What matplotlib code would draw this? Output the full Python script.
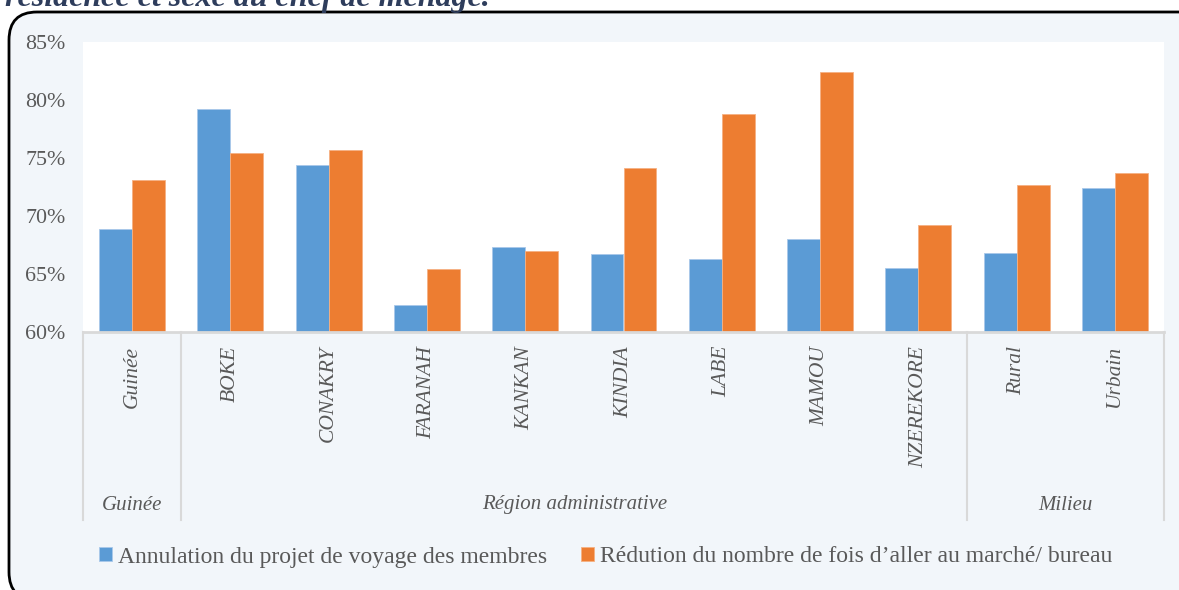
import matplotlib
matplotlib.use("Agg")
import matplotlib.pyplot as plt
import numpy as np
from matplotlib.patches import FancyBboxPatch
from matplotlib.lines import Line2D

categories = ["Guinée", "BOKE", "CONAKRY", "FARANAH", "KANKAN", "KINDIA",
              "LABE", "MAMOU", "NZEREKORE", "Rural", "Urbain"]
annulation = [68.9, 79.2, 74.4, 62.3, 67.3, 66.7, 66.3, 68.0, 65.5, 66.8, 72.4]
reduction = [73.1, 75.4, 75.7, 65.4, 67.0, 74.1, 78.8, 82.4, 69.2, 72.7, 73.7]
series_names = ["Annulation du projet de voyage des membres",
                "Rédution du nombre de fois d’aller au marché/ bureau"]
groups = [("Guinée", 0, 0), ("Région administrative", 1, 8), ("Milieu", 9, 10)]
yticks = [60, 65, 70, 75, 80, 85]

W, H = 1179, 590
fig = plt.figure(figsize=(W / 100, H / 100), dpi=100, facecolor="white")
plt.rcParams["font.family"] = ["Liberation Serif", "DejaVu Serif"]

# background rounded box (in inches, 100 px per inch)
box = FancyBboxPatch((0.09, -0.10), 12.10, (H - 12) / 100 + 0.10,
                     boxstyle="round,pad=0,rounding_size=0.28",
                     transform=fig.dpi_scale_trans, facecolor="#F2F6FA",
                     edgecolor="black", linewidth=2, zorder=-5)
fig.patches.append(box)

fig.text(5 / W, 1 - 6 / H, "résidence et sexe du chef de ménage.",
         fontsize=23, fontweight="bold", fontstyle="italic",
         color="#2E3D5C", va="baseline", ha="left")

left, right, top, bottom = 83, 1164, 42, 332
ax = fig.add_axes([left / W, 1 - bottom / H, (right - left) / W, (bottom - top) / H])
ax.set_facecolor("white")

x = np.arange(len(categories))
bw = 0.335
c1, c2 = "#5B9BD5", "#ED7D31"
ax.bar(x - bw / 2, annulation, bw, color=c1, edgecolor="#A9C8EA", linewidth=0.6,
       label=series_names[0])
ax.bar(x + bw / 2, reduction, bw, color=c2, edgecolor="#F5B183", linewidth=0.6,
       label=series_names[1])

ax.set_xlim(-0.5, len(categories) - 0.5)
ax.set_ylim(60, 85)
ax.set_yticks(yticks)
ax.set_yticklabels([f"{v}%" for v in yticks], fontsize=15.8, color="#595959")
ax.set_xticks(x)
ax.set_xticklabels(categories, rotation=90, fontsize=15.5, fontstyle="italic",
                   color="#595959")
ax.tick_params(axis="x", length=0, pad=10)
ax.tick_params(axis="y", length=0, pad=12.5)
for s in ["top", "right", "left"]:
    ax.spines[s].set_visible(False)
ax.spines["bottom"].set_color("#D9D9D9")
ax.spines["bottom"].set_linewidth(2)

trans = ax.get_xaxis_transform()
ybot = -(520 - bottom) / (bottom - top)
for xb in [-0.5, 0.5, 8.5, 10.5]:
    ax.add_line(Line2D([xb, xb], [0, ybot], transform=trans, color="#D9D9D9",
                       lw=1.5, clip_on=False))
ylab = -(505 - bottom) / (bottom - top)
for name, a, b in groups:
    ax.text((a + b) / 2, ylab, name, transform=trans, ha="center", va="center",
            fontsize=15, fontstyle="italic", color="#595959")

fig.legend(loc="center", bbox_to_anchor=(606 / W, 1 - 557 / H), ncol=2,
           frameon=False, fontsize=17, handlelength=0.52, handleheight=0.52,
           handletextpad=0.28, columnspacing=1.45, labelcolor="#595959")

fig.savefig("out.png", dpi=100, facecolor="white")
